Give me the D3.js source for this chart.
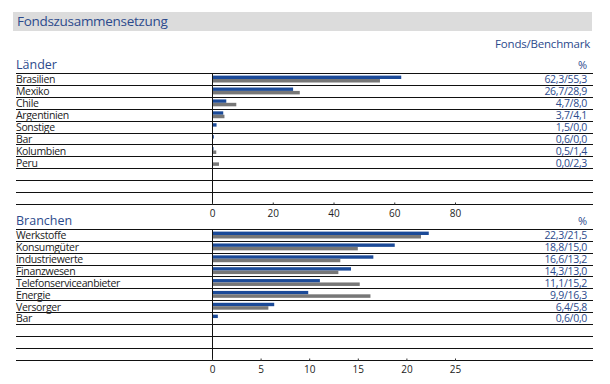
<!DOCTYPE html>
<html>
<head>
<meta charset="utf-8">
<script src="https://cdn.jsdelivr.net/npm/d3@7"></script>
<style>
body { margin: 0; background: #fff; }
svg { display: block; font-family: "Open Sans", sans-serif; }
</style>
</head>
<body>
<svg id="chart"></svg>
<script>
var svgDimensions = { width: 610, height: 384 };

var laender = ["Brasilien", "Mexiko", "Chile", "Argentinien", "Sonstige", "Bar", "Kolumbien", "Peru"];
var laenderFonds = [62.3, 26.7, 4.7, 3.7, 1.5, 0.6, 0.5, 0.0];
var laenderBench = [55.3, 28.9, 8.0, 4.1, 0.0, 0.0, 1.4, 2.3];
var laenderTicks = [0, 20, 40, 60, 80];

var branchen = ["Werkstoffe", "Konsumgüter", "Industriewerte", "Finanzwesen", "Telefonserviceanbieter", "Energie", "Versorger", "Bar"];
var branchenFonds = [22.3, 18.8, 16.6, 14.3, 11.1, 9.9, 6.4, 0.6];
var branchenBench = [21.5, 15.0, 13.2, 13.0, 15.2, 16.3, 5.8, 0.0];
var branchenTicks = [0, 5, 10, 15, 20, 25];

var blue = '#1b4a98';
var grey = '#777777';
var textBlue = '#2c4a8c';
var nRows = 11;
var left = 16, right = 593, zeroX = 212, endX = 455;

var fmt = function(v) { return d3.format('.1f')(v).replace('.', ','); };

var svg = d3.select('#chart')
	.attr('width', svgDimensions.width)
	.attr('height', svgDimensions.height);

// header band
svg.append('rect')
	.attr('x', 13).attr('y', 12)
	.attr('width', 579).attr('height', 19)
	.attr('fill', '#dcdcdc');
svg.append('text')
	.attr('x', 17).attr('y', 26)
	.attr('font-size', '13.5px')
	.attr('letter-spacing', '-0.3px')
	.attr('fill', textBlue)
	.text('Fondszusammensetzung');
svg.append('text')
	.attr('x', 590).attr('y', 48)
	.attr('text-anchor', 'end')
	.attr('font-size', '11.5px')
	.attr('letter-spacing', '-0.2px')
	.attr('fill', textBlue)
	.text('Fonds/Benchmark');

function section(title, cats, fonds, bench, ticks, top, bottom) {
	var g = svg.append('g');
	var x = d3.scaleLinear()
		.domain([0, ticks[ticks.length - 1]])
		.range([zeroX, endX]);
	var y = d3.scaleBand()
		.domain(d3.range(nRows))
		.range([top, bottom]);
	var h = y.bandwidth();

	g.append('text')
		.attr('x', 16).attr('y', top - 4)
		.attr('font-size', '12.5px')
		.attr('fill', textBlue)
		.text(title);
	g.append('text')
		.attr('x', 587).attr('y', top - 4)
		.attr('text-anchor', 'end')
		.attr('font-size', '11px')
		.attr('fill', textBlue)
		.text('%');

	// bars
	g.selectAll('rect.fonds')
		.data(fonds)
		.join('rect')
		.attr('class', 'fonds')
		.attr('x', x(0))
		.attr('y', function(d, i) { return y(i) + 2.6; })
		.attr('width', function(d) { return x(d) - x(0); })
		.attr('height', 3.4)
		.attr('fill', blue);
	g.selectAll('rect.bench')
		.data(bench)
		.join('rect')
		.attr('class', 'bench')
		.attr('x', x(0))
		.attr('y', function(d, i) { return y(i) + 6; })
		.attr('width', function(d) { return x(d) - x(0); })
		.attr('height', 3.5)
		.attr('fill', grey);

	// row lines
	var lines = d3.range(nRows + 1).map(function(i) { return top + i * h; });
	g.selectAll('line.row')
		.data(lines)
		.join('line')
		.attr('class', 'row')
		.attr('x1', left).attr('x2', right)
		.attr('y1', function(d) { return Math.round(d) + 0.5; })
		.attr('y2', function(d) { return Math.round(d) + 0.5; })
		.attr('stroke', '#111')
		.attr('stroke-width', 1);

	// category labels
	g.selectAll('text.cat')
		.data(cats)
		.join('text')
		.attr('class', 'cat')
		.attr('x', 16)
		.attr('y', function(d, i) { return y(i) + h - 1.5; })
		.attr('font-size', '10.5px')
		.attr('letter-spacing', '-0.35px')
		.attr('fill', '#222')
		.text(function(d) { return d; });

	// value labels
	g.selectAll('text.val')
		.data(cats)
		.join('text')
		.attr('class', 'val')
		.attr('x', 587)
		.attr('y', function(d, i) { return y(i) + h - 1.5; })
		.attr('text-anchor', 'end')
		.attr('font-size', '10.5px')
		.attr('letter-spacing', '-0.3px')
		.attr('fill', textBlue)
		.text(function(d, i) { return fmt(fonds[i]) + '/' + fmt(bench[i]); });

	// vertical zero line
	g.append('line')
		.attr('x1', Math.round(x(0)) + 0.5).attr('x2', Math.round(x(0)) + 0.5)
		.attr('y1', top).attr('y2', bottom)
		.attr('stroke', '#111');

	// axis
	var axis = d3.axisBottom(x)
		.tickValues(ticks)
		.tickSize(-2)
		.tickPadding(5)
		.tickFormat(d3.format('d'));
	var ax = g.append('g')
		.attr('transform', 'translate(0,' + (Math.round(bottom) + 0.5) + ')')
		.call(axis);
	ax.select('.domain').remove();
	ax.selectAll('.tick line').attr('stroke', '#333');
	ax.selectAll('.tick text')
		.attr('font-family', '"Open Sans", sans-serif')
		.attr('font-size', '10px')
		.attr('fill', '#222');
}

section('Länder', laender, laenderFonds, laenderBench, laenderTicks, 73, 204);
section('Branchen', branchen, branchenFonds, branchenBench, branchenTicks, 229, 359.5);
</script>
</body>
</html>
